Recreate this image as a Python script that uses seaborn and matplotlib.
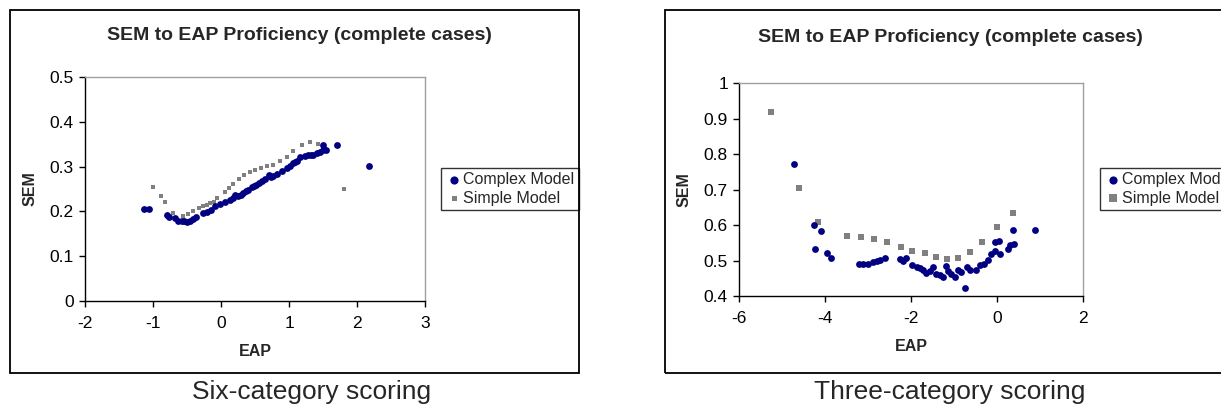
import numpy as np
import pandas as pd
import matplotlib
matplotlib.use('Agg')
import matplotlib.pyplot as plt
import seaborn as sns
from matplotlib.patches import Rectangle

# ── Data ──────────────────────────────────────────────────────────
# Six-category scoring
six_complex_x = [-1.13, -1.06, -0.79, -0.76, -0.68, -0.63, -0.58, -0.55, -0.50, -0.46,
                 -0.41, -0.37, -0.26, -0.21, -0.14, -0.09, -0.01, 0.06, 0.13, 0.17,
                 0.21, 0.25, 0.29, 0.33, 0.37, 0.40, 0.45, 0.49, 0.52, 0.56, 0.60,
                 0.65, 0.70, 0.74, 0.77, 0.82, 0.89, 0.97, 1.01, 1.06, 1.09, 1.12,
                 1.16, 1.24, 1.28, 1.32, 1.36, 1.41, 1.46, 1.50, 1.54, 1.50, 1.71, 2.17]
six_complex_y = [0.206, 0.206, 0.191, 0.188, 0.185, 0.178, 0.179, 0.178, 0.176, 0.178,
                 0.183, 0.188, 0.196, 0.199, 0.204, 0.211, 0.217, 0.222, 0.226, 0.229,
                 0.237, 0.234, 0.237, 0.241, 0.245, 0.248, 0.254, 0.256, 0.260, 0.263, 0.267,
                 0.272, 0.282, 0.276, 0.278, 0.284, 0.291, 0.297, 0.302, 0.308, 0.310, 0.312,
                 0.321, 0.323, 0.327, 0.325, 0.327, 0.330, 0.333, 0.336, 0.336, 0.349, 0.349, 0.302]
six_simple_x = [-1.00, -0.88, -0.83, -0.70, -0.56, -0.48, -0.41, -0.32, -0.26, -0.21,
                -0.16, -0.11, -0.06, 0.06, 0.12, 0.18, 0.26, 0.34, 0.42, 0.50,
                0.59, 0.67, 0.77, 0.87, 0.97, 1.06, 1.19, 1.31, 1.43, 1.81]
six_simple_y = [0.254, 0.234, 0.222, 0.196, 0.189, 0.194, 0.202, 0.208, 0.211, 0.214,
                0.219, 0.222, 0.230, 0.243, 0.252, 0.261, 0.272, 0.281, 0.288, 0.293,
                0.297, 0.301, 0.304, 0.312, 0.321, 0.334, 0.349, 0.356, 0.350, 0.250]

# Three-category scoring
three_complex_x = [-4.71, -4.25, -4.23, -4.09, -3.96, -3.85, -3.20, -3.11, -3.01, -2.88,
                   -2.80, -2.71, -2.61, -2.26, -2.18, -2.12, -1.97, -1.87, -1.80, -1.72,
                   -1.64, -1.56, -1.49, -1.41, -1.33, -1.25, -1.19, -1.14, -1.06, -0.98,
                   -0.91, -0.83, -0.74, -0.70, -0.63, -0.48, -0.40, -0.31, -0.22, -0.15,
                   -0.05, -0.05, 0.05, 0.08, 0.26, 0.31, 0.39, 0.37, 0.89]
three_complex_y = [0.772, 0.601, 0.533, 0.582, 0.521, 0.507, 0.489, 0.489, 0.489, 0.496,
                   0.498, 0.501, 0.507, 0.505, 0.498, 0.507, 0.487, 0.482, 0.480, 0.474,
                   0.466, 0.471, 0.482, 0.463, 0.458, 0.454, 0.485, 0.471, 0.463, 0.454,
                   0.473, 0.468, 0.423, 0.482, 0.474, 0.473, 0.487, 0.491, 0.501, 0.517,
                   0.526, 0.553, 0.554, 0.517, 0.531, 0.543, 0.546, 0.585, 0.586]
three_simple_x = [-5.25, -4.60, -4.16, -3.48, -3.17, -2.86, -2.55, -2.23, -1.97, -1.67,
                  -1.41, -1.16, -0.90, -0.63, -0.35, 0.00, 0.37]
three_simple_y = [0.918, 0.703, 0.609, 0.569, 0.565, 0.560, 0.551, 0.537, 0.526, 0.520,
                  0.511, 0.505, 0.508, 0.525, 0.552, 0.594, 0.635]

series_names = ['Complex Model', 'Simple Model']
captions = ['Six-category scoring', 'Three-category scoring']
chart_title = 'SEM to EAP Proficiency (complete cases)'

NAVY = '#000080'
GRAY = '#808080'

# ── Style ─────────────────────────────────────────────────────────
sns.set_style('white')
plt.rcParams['font.family'] = ['Liberation Sans', 'DejaVu Sans']
plt.rcParams['axes.unicode_minus'] = False

fig = plt.figure(figsize=(12.21, 4.07), dpi=100)
W, H = 1221, 407


def fx(px):
    return px / W


def fy(py):
    return 1 - py / H


# chart-area boxes
for x0, x1 in [(10, 579), (665, 1240)]:
    fig.patches.append(Rectangle((fx(x0), fy(373)), fx(x1 - x0), (373 - 10) / H,
                                 transform=fig.transFigure, fill=False,
                                 edgecolor='black', linewidth=1.3))


def make_panel(rect, cx, cy, sx, sy, simple_size, xlim, ylim, xticks, yticks,
               yfmt, legend_x, title_xy):
    ax = fig.add_axes(rect)
    df = pd.concat([
        pd.DataFrame({'EAP': cx, 'SEM': cy, 'Model': series_names[0]}),
        pd.DataFrame({'EAP': sx, 'SEM': sy, 'Model': series_names[1]}),
    ])
    sns.scatterplot(data=df[df.Model == series_names[1]], x='EAP', y='SEM',
                    color=GRAY, marker='s', s=simple_size, linewidth=0,
                    ax=ax, label=series_names[1], zorder=2)
    sns.scatterplot(data=df[df.Model == series_names[0]], x='EAP', y='SEM',
                    color=NAVY, marker='o', s=24, linewidth=0,
                    ax=ax, label=series_names[0], zorder=3)
    ax.set_xlim(*xlim)
    ax.set_ylim(*ylim)
    ax.set_xticks(xticks)
    ax.set_yticks(yticks)
    ax.set_yticklabels([yfmt(v) for v in yticks])
    ax.tick_params(axis='both', direction='out', length=4, width=1, labelsize=12.5,
                   colors='black', bottom=True, left=True, pad=4)
    ax.tick_params(axis='x', pad=7)
    for side in ['left', 'bottom']:
        ax.spines[side].set_color('black')
        ax.spines[side].set_linewidth(1)
    for side in ['top', 'right']:
        ax.spines[side].set_color('#a0a0a0')
        ax.spines[side].set_linewidth(1)
    ax.set_xlabel('EAP', fontsize=11.5, fontweight='bold', labelpad=9)
    ax.set_ylabel('SEM', fontsize=11.5, fontweight='bold', labelpad=9)
    handles, labels = ax.get_legend_handles_labels()
    order = [labels.index(n) for n in series_names]
    leg = ax.legend([handles[i] for i in order], [labels[i] for i in order],
                    loc='center left', bbox_to_anchor=(fx(legend_x), fy(189)),
                    bbox_transform=fig.transFigure, frameon=True, fancybox=False,
                    edgecolor='black', fontsize=11.5, handletextpad=0.1,
                    borderpad=0.3, labelspacing=0.2, handlelength=1.0,
                    borderaxespad=0, markerscale=1.2)
    leg.get_frame().set_linewidth(1)
    fig.text(fx(title_xy[0]), fy(title_xy[1]), chart_title, ha='center', va='center',
             fontsize=14, fontweight='bold')
    return ax


make_panel([fx(85), fy(301), fx(340), 224 / H],
           six_complex_x, six_complex_y, six_simple_x, six_simple_y, 9,
           (-2, 3), (0, 0.5), [-2, -1, 0, 1, 2, 3], [0, 0.1, 0.2, 0.3, 0.4, 0.5],
           lambda v: '0' if v == 0 else f'{v:g}', 441, (299, 35))

make_panel([fx(739), fy(296), fx(344), 213 / H],
           three_complex_x, three_complex_y, three_simple_x, three_simple_y, 20,
           (-6, 2), (0.4, 1.0), [-6, -4, -2, 0, 2], [0.4, 0.5, 0.6, 0.7, 0.8, 0.9, 1.0],
           lambda v: '1' if v == 1 else f'{v:g}', 1100, (950, 38))

fig.text(fx(312), fy(392), captions[0], ha='center', va='center', fontsize=19)
fig.text(fx(950), fy(392), captions[1], ha='center', va='center', fontsize=19)

fig.savefig('out.png', dpi=100)
